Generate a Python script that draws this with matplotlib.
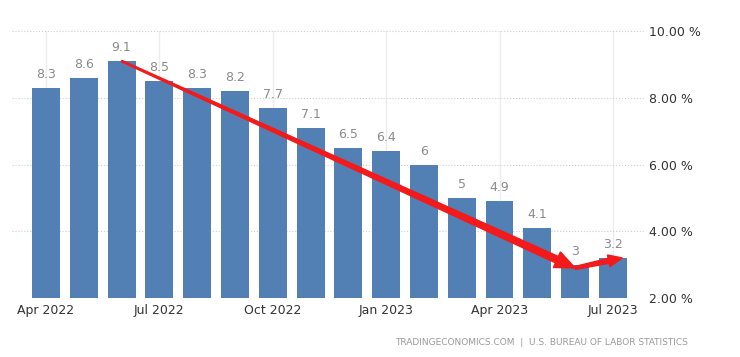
import numpy as np
import matplotlib.pyplot as plt
from matplotlib.patches import Polygon
from matplotlib.transforms import IdentityTransform

# Datos: inflacion anual EE.UU.
months = ['Apr 2022', 'May 2022', 'Jun 2022', 'Jul 2022', 'Aug 2022', 'Sep 2022',
          'Oct 2022', 'Nov 2022', 'Dec 2022', 'Jan 2023', 'Feb 2023', 'Mar 2023',
          'Apr 2023', 'May 2023', 'Jun 2023', 'Jul 2023']
values = [8.3, 8.6, 9.1, 8.5, 8.3, 8.2, 7.7, 7.1, 6.5, 6.4, 6.0, 5.0, 4.9, 4.1, 3.0, 3.2]
tick_idx = [0, 3, 6, 9, 12, 15]
y_ticks = [2, 4, 6, 8, 10]

fig = plt.figure(figsize=(7.4, 3.57), dpi=100)
ax = fig.add_axes([12 / 740, 59 / 357, 633 / 740, 267 / 357])

x = np.arange(len(values))
bars = ax.bar(x, values, width=0.74, color='#5380b4', zorder=2)
ax.bar_label(bars, labels=[f'{v:g}' for v in values], padding=5, fontsize=9, color='#8a8a8a')

ax.set_xlim(-0.9, 15.85)
ax.set_ylim(2, 10)
ax.set_xticks([x[i] for i in tick_idx])
ax.set_xticklabels([months[i][:3] + ' ' + months[i][-4:] for i in tick_idx], fontsize=9, color='#333333')
ax.set_yticks(y_ticks)
ax.set_yticklabels([f'{t:.2f} %' for t in y_ticks], fontsize=9, color='#333333')
ax.yaxis.tick_right()
ax.tick_params(axis='both', length=0, pad=3)
ax.tick_params(axis='x', pad=4)
ax.grid(axis='y', linestyle=':', color='#cfcfcf', linewidth=0.8, zorder=0)
ax.grid(axis='x', linestyle='-', color='#ececec', linewidth=1, zorder=0)
for s in ax.spines.values():
    s.set_visible(False)

fig.text(0.93, 0.04, 'TRADINGECONOMICS.COM  |  U.S. BUREAU OF LABOR STATISTICS',
         ha='right', va='center', fontsize=6.5, color='#999999')


def flecha(p0, p1, w0, w1, hw, hl, color='#f21a1a'):
    # flecha que se ensancha, en coordenadas de pantalla
    a = ax.transData.transform(p0)
    b = ax.transData.transform(p1)
    d = b - a
    L = np.hypot(*d)
    u = d / L
    n = np.array([-u[1], u[0]])
    base = b - u * hl
    pts = [a + n * w0 / 2, base + n * w1 / 2, base + n * hw / 2, b,
           base - n * hw / 2, base - n * w1 / 2, a - n * w0 / 2]
    fig.patches.append(Polygon(pts, closed=True, color=color, transform=IdentityTransform(),
                               figure=fig, zorder=5))


fig.canvas.draw()
flecha((x[2], values[2]), (x[14], values[14] - 0.1), 1.5, 7, 17, 20)
flecha((x[14], values[14] - 0.1), (x[15] + 0.25, values[15]), 3, 5, 12, 14)

fig.savefig('out.png', dpi=100)
